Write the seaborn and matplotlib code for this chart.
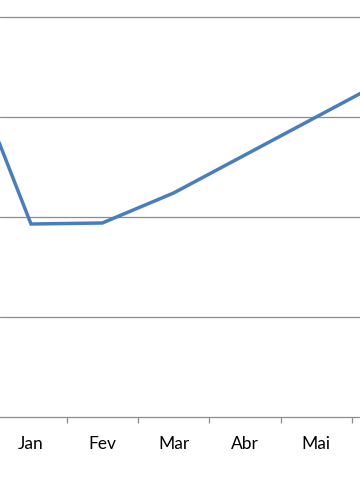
import matplotlib
matplotlib.use("Agg")
import matplotlib.pyplot as plt
import seaborn as sns
import pandas as pd
import numpy as np

meses = ["Dez", "Jan", "Fev", "Mar", "Abr", "Mai", "Jun"]
valores = [37.5, 19.3, 19.4, 22.4, 26.2, 30.0, 33.8]
rotulos = ["Jan", "Fev", "Mar", "Abr", "Mai"]
grade = [10, 20, 30, 40]

sns.set_style("white")
plt.rcParams['font.family'] = ['Lato', 'DejaVu Sans']

df = pd.DataFrame({"pos": np.arange(len(meses)), "mes": meses, "valor": valores})

fig = plt.figure(figsize=(3.6, 5.04), dpi=100)
ax = fig.add_axes([0, (504 - 417) / 504, 1, 417 / 504])

sns.lineplot(data=df, x="pos", y="valor", ax=ax, color="#4a7ebb",
             linewidth=2.5, sort=False, solid_joinstyle="miter")

for g in grade:
    ax.axhline(g, color="#8c8c8c", linewidth=0.9, zorder=0)

idx = [meses.index(r) for r in rotulos]
ax.set_xticks(idx)
ax.set_xticklabels(rotulos)
ax.set_xticks([i + 0.5 for i in range(1, 6)], minor=True)
ax.tick_params(axis="x", which="major", length=0, pad=14, labelsize=12.5,
               colors="#000000")
ax.tick_params(axis="x", which="minor", length=4, width=0.9, color="#8c8c8c",
               direction="out", bottom=True)
ax.set_yticks([])
ax.set_xlabel("")
ax.set_ylabel("")

ax.set_xlim(1 - 31 / 71.3, 1 + (360 - 31) / 71.3)
ax.set_ylim(0, 41.7)

for s in ["left", "right", "top"]:
    ax.spines[s].set_visible(False)
ax.spines["bottom"].set_color("#8c8c8c")
ax.spines["bottom"].set_linewidth(0.9)

fig.savefig("out.png", dpi=100)
